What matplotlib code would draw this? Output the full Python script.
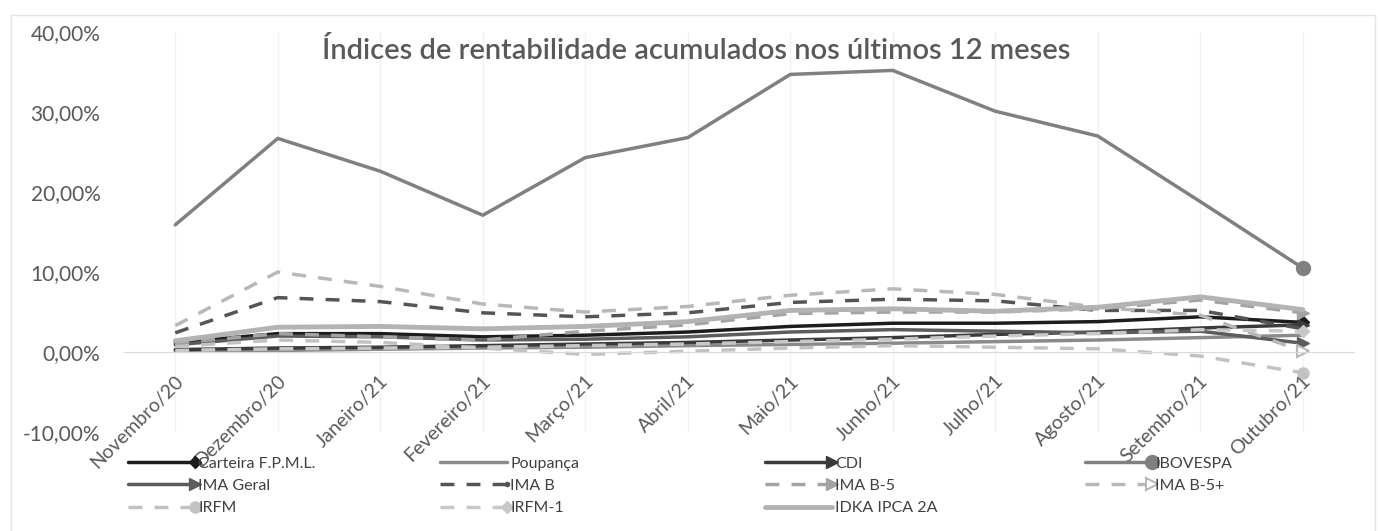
import matplotlib
matplotlib.use("Agg")
import matplotlib.pyplot as plt
from matplotlib.lines import Line2D
from matplotlib.legend_handler import HandlerLine2D
from matplotlib.patches import Rectangle
from matplotlib.ticker import FuncFormatter
from matplotlib.transforms import ScaledTranslation

plt.rcParams["font.family"] = ["Lato", "DejaVu Sans"]

MESES = ["Novembro/20", "Dezembro/20", "Janeiro/21", "Fevereiro/21", "Março/21",
         "Abril/21", "Maio/21", "Junho/21", "Julho/21", "Agosto/21",
         "Setembro/21", "Outubro/21"]

# rentabilidade acumulada (%)
carteira = [1.2, 2.3, 2.3, 1.9, 2.1, 2.5, 3.2, 3.6, 3.6, 3.8, 4.4, 3.7]
poupanca = [0.1, 0.2, 0.35, 0.5, 0.6, 0.8, 0.95, 1.1, 1.3, 1.5, 1.8, 2.1]
cdi = [0.3, 0.5, 0.6, 0.8, 1.0, 1.2, 1.5, 1.8, 2.2, 2.5, 3.0, 3.4]
ibovespa = [15.9, 26.7, 22.6, 17.1, 24.3, 26.8, 34.7, 35.2, 30.1, 27.0, 18.8, 10.5]
ima_geral = [0.9, 2.0, 1.9, 1.5, 1.6, 1.9, 2.5, 2.8, 2.6, 2.4, 2.6, 1.1]
ima_b = [2.4, 6.8, 6.3, 4.9, 4.4, 4.9, 6.2, 6.6, 6.4, 5.2, 5.2, 2.9]
ima_b5 = [1.1, 2.3, 1.9, 1.5, 2.6, 3.4, 4.8, 5.0, 5.0, 5.4, 6.5, 4.9]
ima_b5p = [3.3, 10.0, 8.2, 6.0, 5.0, 5.7, 7.1, 7.9, 7.2, 5.6, 4.6, 0.1]
irfm = [0.7, 1.5, 1.2, 0.5, -0.3, 0.1, 0.5, 0.8, 0.6, 0.4, -0.5, -2.6]
irfm1 = [0.2, 0.4, 0.5, 0.6, 0.8, 1.0, 1.3, 1.6, 2.0, 2.3, 2.8, 2.6]
idka = [1.4, 3.1, 3.2, 2.9, 3.2, 3.8, 5.2, 5.4, 5.1, 5.6, 6.9, 5.3]

SERIES = [
    ("Carteira F.P.M.L.", carteira),
    ("Poupança", poupanca),
    ("CDI", cdi),
    ("IBOVESPA", ibovespa),
    ("IMA Geral", ima_geral),
    ("IMA B", ima_b),
    ("IMA B-5", ima_b5),
    ("IMA B-5+", ima_b5p),
    ("IRFM", irfm),
    ("IRFM-1", irfm1),
    ("IDKA IPCA 2A", idka),
]

DASH = (0, (4, 3.5))
STYLES = {
    "Carteira F.P.M.L.": dict(color="#1c1c1c", lw=2.5, marker="D", ms=6),
    "Poupança": dict(color="#8a8a8a", lw=2.5),
    "CDI": dict(color="#3a3a3a", lw=2.5, marker=">", ms=8),
    "IBOVESPA": dict(color="#808080", lw=2.5, marker="o", ms=10),
    "IMA Geral": dict(color="#5c5c5c", lw=2.5, marker=">", ms=9),
    "IMA B": dict(color="#555555", lw=2.5, ls=DASH, marker="o", ms=3),
    "IMA B-5": dict(color="#a3a3a3", lw=2.5, ls=DASH, marker=">", ms=8),
    "IMA B-5+": dict(color="#b8b8b8", lw=2.5, ls=DASH, marker=">", ms=9, mfc="white", mew=1.5),
    "IRFM": dict(color="#c2c2c2", lw=2.5, ls=DASH, marker="o", ms=8),
    "IRFM-1": dict(color="#c8c8c8", lw=2.5, ls=DASH, marker="D", ms=6),
    "IDKA IPCA 2A": dict(color="#b3b3b3", lw=3.5),
}

TXT = "#595959"


class EndMarkerHandler(HandlerLine2D):
    """Legend sample with the marker at the right end, as Excel draws it."""

    def create_artists(self, legend, orig_handle, xdescent, ydescent,
                       width, height, fontsize, trans):
        y = (height - ydescent) / 2
        x0, x1 = -xdescent, -xdescent + width
        line = Line2D([x0, x1], [y, y])
        self.update_prop(line, orig_handle, legend)
        line.set_marker("None")
        line.set_markevery(None)
        mark = Line2D([x1], [y])
        self.update_prop(mark, orig_handle, legend)
        mark.set_linestyle("None")
        mark.set_markevery(None)
        line.set_transform(trans)
        mark.set_transform(trans)
        return [line, mark]


fig = plt.figure(figsize=(13.78, 5.31), dpi=100)
ax = fig.add_axes([0.09, 0.1864, 0.8926, 0.7533])

# spine position first: moving it resets the ticks
for side in ["top", "right", "left"]:
    ax.spines[side].set_visible(False)
ax.spines["bottom"].set_position(("data", 0))
ax.spines["bottom"].set_color("#d9d9d9")

x = list(range(len(MESES)))
handles = {}
for label, vals in SERIES:
    st = dict(STYLES[label])
    ln, = ax.plot(x, vals, label=label, markevery=[len(vals) - 1],
                  solid_capstyle="round", dash_capstyle="butt", **st)
    handles[label] = ln

ax.set_xlim(-0.5, len(MESES) - 0.5)
ax.set_ylim(-10, 40)
ax.set_yticks(range(-10, 41, 10))
ax.yaxis.set_major_formatter(FuncFormatter(lambda v, _: f"{v:.2f}%".replace(".", ",")))
ax.tick_params(axis="y", length=0, pad=17, labelsize=15, labelcolor=TXT)

ax.set_xticks(x)
ax.tick_params(axis="x", length=0, pad=0, labelsize=14, labelcolor=TXT)
ax.set_xticklabels(MESES, rotation=45, ha="right", va="center", rotation_mode="anchor")
off = ScaledTranslation(0.05, -0.26, fig.dpi_scale_trans)
for lab in ax.get_xticklabels():
    lab.set_transform(lab.get_transform() + off)

ax.grid(axis="x", color="#f1f1f1", lw=1)
ax.set_axisbelow(True)

fig.text(0.505, 0.905, "Índices de rentabilidade acumulados nos últimos 12 meses",
         ha="center", va="center", fontsize=21, fontweight="semibold", color=TXT)

# legend laid out row by row in four fixed columns
cols = [["Carteira F.P.M.L.", "IMA Geral", "IRFM"],
        ["Poupança", "IMA B", "IRFM-1"],
        ["CDI", "IMA B-5", "IDKA IPCA 2A"],
        ["IBOVESPA", "IMA B-5+"]]
col_x = [128, 440, 765, 1085]
for names, cx in zip(cols, col_x):
    leg = fig.legend([handles[n] for n in names], names,
                     loc="upper left", bbox_to_anchor=(cx / 1378, 0.14),
                     frameon=False, fontsize=11.5, handlelength=4.2,
                     handletextpad=0.2, labelspacing=0.5, borderpad=0,
                     borderaxespad=0,
                     handler_map={Line2D: EndMarkerHandler()})
    for t in leg.get_texts():
        t.set_color("#404040")

fig.add_artist(Rectangle((0.008, -0.05), 0.99, 1.022, transform=fig.transFigure,
                         fill=False, edgecolor="#e3e3e3", lw=1))

fig.savefig("out.png", dpi=100)
